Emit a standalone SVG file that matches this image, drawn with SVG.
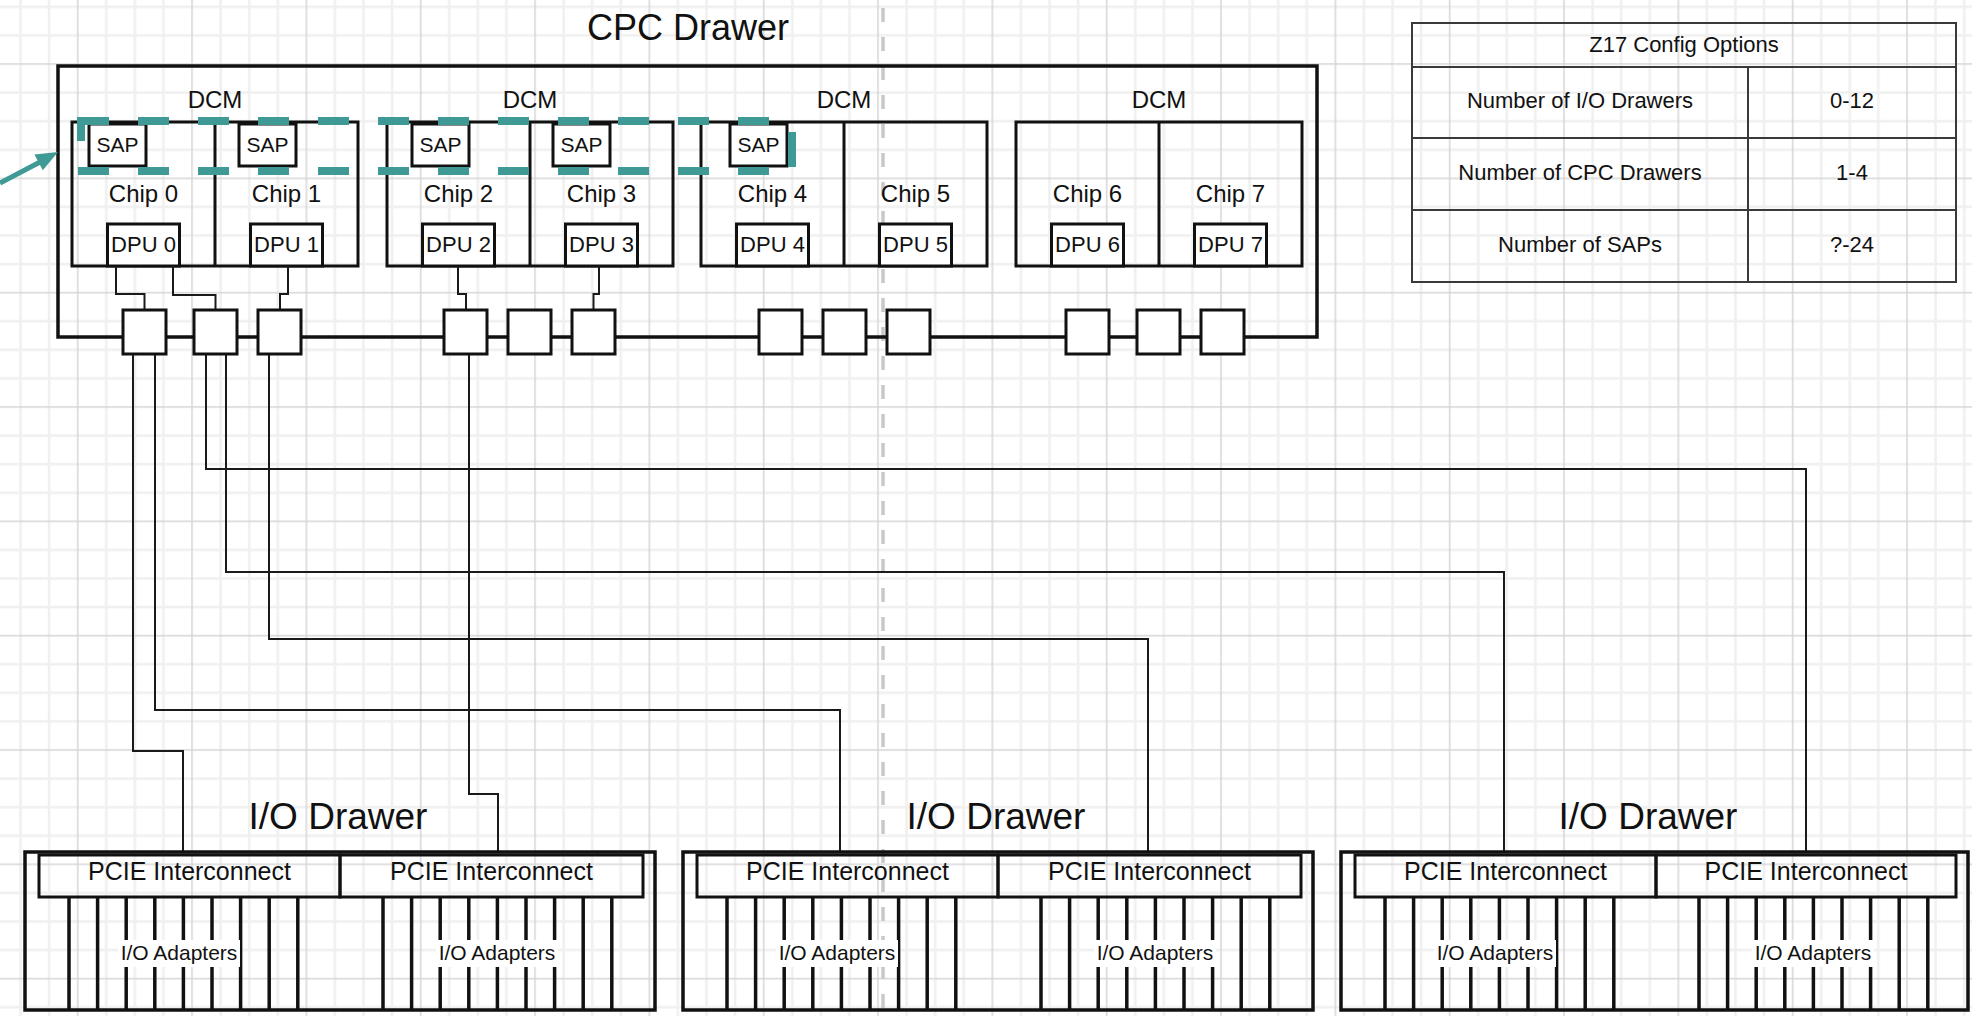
<svg xmlns="http://www.w3.org/2000/svg" width="1972" height="1016" viewBox="0 0 1972 1016">
<style>
text{font-family:"Liberation Sans",Arial,sans-serif;fill:#111;text-anchor:middle}
.box{fill:none;stroke:#111;stroke-width:3}
.wbox{fill:#fff;stroke:#111;stroke-width:3}
.thick{fill:none;stroke:#111;stroke-width:3.5}
.wire{fill:none;stroke:#1a1a1a;stroke-width:2}
.slot{stroke:#111;stroke-width:3.5}
.tbl{fill:none;stroke:#3a3a3a;stroke-width:2}
.teal{fill:none;stroke:#3f9994;stroke-width:8}
.f36{font-size:36px}.f37{font-size:37px}.f24{font-size:24px}.f22{font-size:22px}.f21{font-size:21px}.f25{font-size:25px}
</style>
<defs>
<pattern id="grid" x="6.25" y="-7.45" width="114.33" height="114.33" patternUnits="userSpaceOnUse">
<rect width="114.33" height="114.33" fill="#fff"/>
<g fill="#f0f0f0">
<rect x="13.04" y="0" width="2.5" height="114.33"/><rect x="41.62" y="0" width="2.5" height="114.33"/><rect x="98.79" y="0" width="2.5" height="114.33"/>
<rect y="13.04" x="0" height="2.5" width="114.33"/><rect y="41.62" x="0" height="2.5" width="114.33"/><rect y="98.79" x="0" height="2.5" width="114.33"/>
</g>
<g fill="#d6d6d6">
<rect x="70.71" y="0" width="1.5" height="114.33"/>
<rect y="70.71" x="0" height="1.5" width="114.33"/>
</g>
</pattern>
</defs>
<rect width="1972" height="1016" fill="url(#grid)"/>
<path d="M883,-21 V1016" stroke="#c8c8c8" stroke-width="3.5" stroke-dasharray="14 15" fill="none"/>

<g id="cpc-drawer">
<rect class="thick" x="58" y="66" width="1259" height="271"/>
<text class="f36" x="688" y="40">CPC Drawer</text>
</g>

<g id="dcm-1"><rect class="box" x="72" y="122" width="286" height="144"/><line class="box" x1="215" y1="122" x2="215" y2="266"/><text class="f24" x="215" y="108">DCM</text></g>
<g id="dcm-2"><rect class="box" x="387" y="122" width="286" height="144"/><line class="box" x1="530" y1="122" x2="530" y2="266"/><text class="f24" x="530" y="108">DCM</text></g>
<g id="dcm-3"><rect class="box" x="701" y="122" width="286" height="144"/><line class="box" x1="844" y1="122" x2="844" y2="266"/><text class="f24" x="844" y="108">DCM</text></g>
<g id="dcm-4"><rect class="box" x="1016" y="122" width="286" height="144"/><line class="box" x1="1159" y1="122" x2="1159" y2="266"/><text class="f24" x="1159" y="108">DCM</text></g>

<g id="chip-0"><rect class="wbox" x="89" y="124" width="57" height="42"/><text class="f21" x="117.5" y="152">SAP</text><text class="f24" x="143.5" y="202">Chip 0</text><rect class="wbox" x="107.5" y="224" width="72" height="42"/><text class="f22" x="143.5" y="252">DPU 0</text></g>
<g id="chip-1"><rect class="wbox" x="239" y="124" width="57" height="42"/><text class="f21" x="267.5" y="152">SAP</text><text class="f24" x="286.5" y="202">Chip 1</text><rect class="wbox" x="250.5" y="224" width="72" height="42"/><text class="f22" x="286.5" y="252">DPU 1</text></g>
<g id="chip-2"><rect class="wbox" x="412" y="124" width="57" height="42"/><text class="f21" x="440.5" y="152">SAP</text><text class="f24" x="458.5" y="202">Chip 2</text><rect class="wbox" x="422.5" y="224" width="72" height="42"/><text class="f22" x="458.5" y="252">DPU 2</text></g>
<g id="chip-3"><rect class="wbox" x="553" y="124" width="57" height="42"/><text class="f21" x="581.5" y="152">SAP</text><text class="f24" x="601.5" y="202">Chip 3</text><rect class="wbox" x="565.5" y="224" width="72" height="42"/><text class="f22" x="601.5" y="252">DPU 3</text></g>
<g id="chip-4"><rect class="wbox" x="730" y="124" width="57" height="42"/><text class="f21" x="758.5" y="152">SAP</text><text class="f24" x="772.5" y="202">Chip 4</text><rect class="wbox" x="736.5" y="224" width="72" height="42"/><text class="f22" x="772.5" y="252">DPU 4</text></g>
<g id="chip-5"><text class="f24" x="915.5" y="202">Chip 5</text><rect class="wbox" x="879.5" y="224" width="72" height="42"/><text class="f22" x="915.5" y="252">DPU 5</text></g>
<g id="chip-6"><text class="f24" x="1087.5" y="202">Chip 6</text><rect class="wbox" x="1051.5" y="224" width="72" height="42"/><text class="f22" x="1087.5" y="252">DPU 6</text></g>
<g id="chip-7"><text class="f24" x="1230.5" y="202">Chip 7</text><rect class="wbox" x="1194.5" y="224" width="72" height="42"/><text class="f22" x="1230.5" y="252">DPU 7</text></g>

<g id="sap-highlight">
<path class="teal" d="M78,121 H792 M78,171 H792" stroke-dasharray="31 29"/>
<path class="teal" d="M81,117 V141 M792,132 V167"/>
</g>
<g id="pointer-arrow">
<line x1="0" y1="183" x2="42" y2="161" stroke="#3f9994" stroke-width="5"/>
<polygon points="58,152 42.8,170.3 34.4,154.5" fill="#3f9994"/>
</g>

<g id="connectors">
<path class="wire" d="M116,266 V294 H144.5 V310"/>
<path class="wire" d="M173,266 V295 H215.5 V310"/>
<path class="wire" d="M288,266 V294 H280 V310"/>
<path class="wire" d="M458,266 V294 H466 V310"/>
<path class="wire" d="M599,266 V294 H593.5 V310"/>
<path class="wire" d="M133,353 V751 H183 V852"/>
<path class="wire" d="M155,353 V710 H840 V852"/>
<path class="wire" d="M206,353 V469 H1806 V852"/>
<path class="wire" d="M226,353 V572 H1504 V852"/>
<path class="wire" d="M269,353 V639 H1148 V852"/>
<path class="wire" d="M469,353 V794 H498 V852"/>
</g>

<g id="ports">
<rect class="wbox" x="123" y="310" width="43" height="44"/>
<rect class="wbox" x="194" y="310" width="43" height="44"/>
<rect class="wbox" x="258" y="310" width="43" height="44"/>
<rect class="wbox" x="444" y="310" width="43" height="44"/>
<rect class="wbox" x="508" y="310" width="43" height="44"/>
<rect class="wbox" x="572" y="310" width="43" height="44"/>
<rect class="wbox" x="759" y="310" width="43" height="44"/>
<rect class="wbox" x="823" y="310" width="43" height="44"/>
<rect class="wbox" x="887" y="310" width="43" height="44"/>
<rect class="wbox" x="1066" y="310" width="43" height="44"/>
<rect class="wbox" x="1137" y="310" width="43" height="44"/>
<rect class="wbox" x="1201" y="310" width="43" height="44"/>
</g>

<g id="io-drawer-1">
<text class="f37" x="338" y="829">I/O Drawer</text>
<rect class="thick" x="25" y="852" width="630" height="158"/>
<rect class="box" x="39" y="855" width="301" height="42"/>
<rect class="box" x="340" y="855" width="303" height="42"/>
<text class="f25" x="189.5" y="880">PCIE Interconnect</text>
<text class="f25" x="491.5" y="880">PCIE Interconnect</text>
<path class="slot" d="M69,897V1010M97.6,897V1010M126.2,897V1010M154.8,897V1010M183.4,897V1010M212,897V1010M240.6,897V1010M269.2,897V1010M297.8,897V1010M383,897V1010M411.6,897V1010M440.2,897V1010M468.8,897V1010M497.4,897V1010M526,897V1010M554.6,897V1010M583.2,897V1010M611.8,897V1010"/>
<rect x="118" y="940" width="122" height="27" fill="#fff"/>
<rect x="436" y="940" width="122" height="27" fill="#fff"/>
<text class="f21" x="179" y="960">I/O Adapters</text>
<text class="f21" x="497" y="960">I/O Adapters</text>
</g>

<g id="io-drawer-2">
<text class="f37" x="996" y="829">I/O Drawer</text>
<rect class="thick" x="683" y="852" width="630" height="158"/>
<rect class="box" x="697" y="855" width="301" height="42"/>
<rect class="box" x="998" y="855" width="303" height="42"/>
<text class="f25" x="847.5" y="880">PCIE Interconnect</text>
<text class="f25" x="1149.5" y="880">PCIE Interconnect</text>
<path class="slot" d="M727,897V1010M755.6,897V1010M784.2,897V1010M812.8,897V1010M841.4,897V1010M870,897V1010M898.6,897V1010M927.2,897V1010M955.8,897V1010M1041,897V1010M1069.6,897V1010M1098.2,897V1010M1126.8,897V1010M1155.4,897V1010M1184,897V1010M1212.6,897V1010M1241.2,897V1010M1269.8,897V1010"/>
<rect x="776" y="940" width="122" height="27" fill="#fff"/>
<rect x="1094" y="940" width="122" height="27" fill="#fff"/>
<text class="f21" x="837" y="960">I/O Adapters</text>
<text class="f21" x="1155" y="960">I/O Adapters</text>
</g>

<g id="io-drawer-3">
<text class="f37" x="1648" y="829">I/O Drawer</text>
<rect class="thick" x="1341" y="852" width="627" height="158"/>
<rect class="box" x="1355" y="855" width="301" height="42"/>
<rect class="box" x="1656" y="855" width="300" height="42"/>
<text class="f25" x="1505.5" y="880">PCIE Interconnect</text>
<text class="f25" x="1806" y="880">PCIE Interconnect</text>
<path class="slot" d="M1385,897V1010M1413.6,897V1010M1442.2,897V1010M1470.8,897V1010M1499.4,897V1010M1528,897V1010M1556.6,897V1010M1585.2,897V1010M1613.8,897V1010M1699,897V1010M1727.6,897V1010M1756.2,897V1010M1784.8,897V1010M1813.4,897V1010M1842,897V1010M1870.6,897V1010M1899.2,897V1010M1927.8,897V1010"/>
<rect x="1434" y="940" width="122" height="27" fill="#fff"/>
<rect x="1752" y="940" width="122" height="27" fill="#fff"/>
<text class="f21" x="1495" y="960">I/O Adapters</text>
<text class="f21" x="1813" y="960">I/O Adapters</text>
</g>

<g id="config-table">
<rect class="tbl" x="1412" y="23" width="544" height="259"/>
<path class="tbl" d="M1412,67 H1956 M1412,138 H1956 M1412,210 H1956 M1748,67 V282"/>
<text class="f22" x="1684" y="52">Z17 Config Options</text>
<text class="f22" x="1580" y="108">Number of I/O Drawers</text>
<text class="f22" x="1852" y="108">0-12</text>
<text class="f22" x="1580" y="180">Number of CPC Drawers</text>
<text class="f22" x="1852" y="180">1-4</text>
<text class="f22" x="1580" y="252">Number of SAPs</text>
<text class="f22" x="1852" y="252">?-24</text>
</g>
</svg>
